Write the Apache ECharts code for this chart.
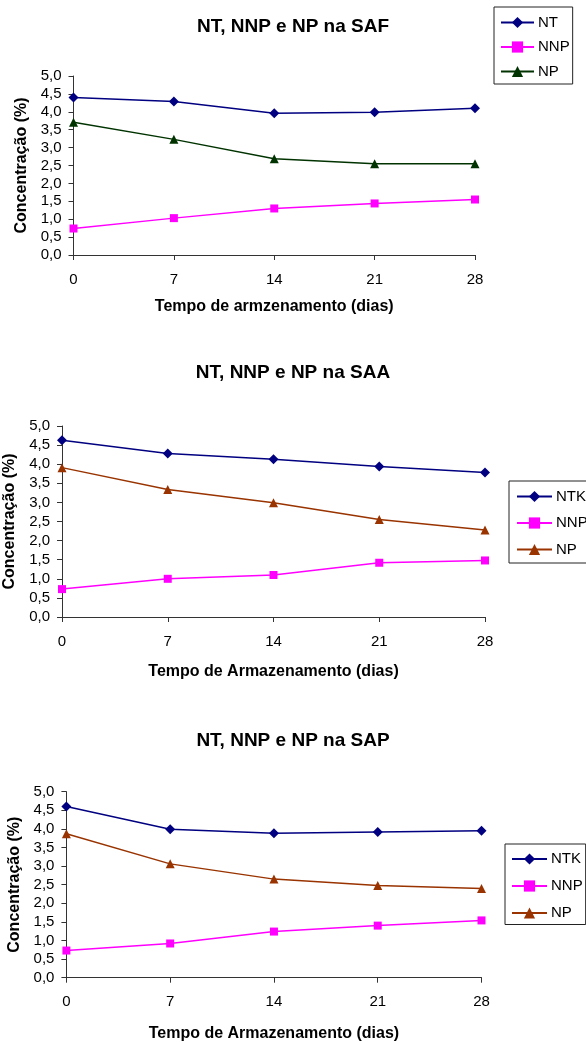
<!DOCTYPE html>
<html><head><meta charset="utf-8">
<script src="https://cdn.jsdelivr.net/npm/echarts@6/dist/echarts.min.js"></script>
<style>
html,body{margin:0;padding:0;background:#fff;}
#c1,#c2,#c3{position:absolute;left:0;width:586px;}
#c1{top:0;height:340px;}
#c2{top:340px;height:360px;}
#c3{top:700px;height:342px;}
</style></head>
<body>
<div id="c1"></div><div id="c2"></div><div id="c3"></div>
<script>
const days = [0, 7, 14, 21, 28];
// SAF
const safNT  = [4.40, 4.29, 3.96, 3.99, 4.10];
const safNNP = [0.74, 1.03, 1.30, 1.44, 1.55];
const safNP  = [3.71, 3.23, 2.69, 2.55, 2.55];
// SAA
const saaNTK = [4.63, 4.28, 4.13, 3.94, 3.78];
const saaNNP = [0.73, 1.00, 1.10, 1.42, 1.48];
const saaNP  = [3.91, 3.34, 2.99, 2.55, 2.28];
// SAP
const sapNTK = [4.60, 3.99, 3.88, 3.92, 3.95];
const sapNNP = [0.73, 0.92, 1.24, 1.40, 1.54];
const sapNP  = [3.87, 3.06, 2.65, 2.48, 2.40];

const FONT = '"Liberation Sans", Arial, sans-serif';
const pairs = v => days.map((d, i) => [d, v[i]]);

function build(cfg) {
  const mk = (name, vals, color, symbol, size) => ({
    name, type: 'line', data: pairs(vals), symbol, symbolSize: size,
    lineStyle: { color, width: 1.5 }, itemStyle: { color },
    animation: false
  });
  return {
    animation: false,
    textStyle: { fontFamily: FONT },
    title: {
      text: cfg.title, left: 'center', top: cfg.titleTop,
      textStyle: { fontFamily: FONT, fontSize: 19, fontWeight: 'bold', color: '#000' }
    },
    legend: {
      orient: 'vertical', left: cfg.legLeft, top: cfg.legTop,
      padding: cfg.legPad, itemGap: cfg.legGap,
      itemWidth: cfg.legIcon, itemHeight: 14,
      borderColor: '#222', borderWidth: 1, backgroundColor: '#fff', borderRadius: 0,
      textStyle: { fontFamily: FONT, fontSize: 15, color: '#000', padding: [0, 0, 0, -1] },
      data: cfg.names
    },
    grid: {
      left: cfg.gl, right: cfg.gr, top: cfg.gt, bottom: cfg.gb,
      containLabel: false, outerBoundsMode: 'none'
    },
    xAxis: {
      type: 'value', min: 0, max: 28, interval: 7,
      name: cfg.xName, nameLocation: 'middle', nameGap: cfg.xGap,
      nameTextStyle: { fontFamily: FONT, fontSize: 16, fontWeight: 'bold', color: '#000' },
      axisLine: { show: true, lineStyle: { color: '#333', width: 1 } },
      axisTick: { show: true, length: 5, lineStyle: { color: '#333' } },
      axisLabel: { fontFamily: FONT, fontSize: 15, color: '#000', margin: 17 },
      splitLine: { show: false }
    },
    yAxis: {
      type: 'value', min: 0, max: 5, interval: 0.5,
      name: 'Concentração (%)', nameLocation: 'middle', nameGap: cfg.yGap, nameRotate: 90,
      nameTextStyle: { fontFamily: FONT, fontSize: 16, fontWeight: 'bold', color: '#000' },
      axisLine: { show: true, lineStyle: { color: '#333', width: 1 } },
      axisTick: { show: true, length: 5, lineStyle: { color: '#333' } },
      axisLabel: { fontFamily: FONT, fontSize: 15, color: '#000', margin: 12,
        formatter: v => v.toFixed(1).replace('.', ',') },
      splitLine: { show: false }
    },
    series: [
      mk(cfg.names[0], cfg.s1, '#000080', 'diamond', 10),
      mk(cfg.names[1], cfg.s2, '#FF00FF', 'rect', 8),
      mk(cfg.names[2], cfg.s3, cfg.npColor, 'triangle', 9)
    ]
  };
}

const charts = [
  ['c1', {
    title: 'NT, NNP e NP na SAF', titleTop: 12.5,
    names: ['NT', 'NNP', 'NP'], s1: safNT, s2: safNNP, s3: safNP, npColor: '#003300',
    gl: 73.5, gr: 111, gt: 76, gb: 85,
    xName: 'Tempo de armzenamento (dias)', xGap: 44, yGap: 42,
    legLeft: 494, legTop: 7, legPad: [8, 3, 5, 6], legGap: 9.5, legIcon: 33
  }],
  ['c2', {
    title: 'NT, NNP e NP na SAA', titleTop: 18.5,
    names: ['NTK', 'NNP', 'NP'], s1: saaNTK, s2: saaNNP, s3: saaNP, npColor: '#993300',
    gl: 62, gr: 101, gt: 86, gb: 83,
    xName: 'Tempo de Armazenamento (dias)', xGap: 47, yGap: 44,
    legLeft: 509, legTop: 141, legPad: [8, 10, 6, 7], legGap: 11.5, legIcon: 35
  }],
  ['c3', {
    title: 'NT, NNP e NP na SAP', titleTop: 26.5,
    names: ['NTK', 'NNP', 'NP'], s1: sapNTK, s2: sapNNP, s3: sapNP, npColor: '#993300',
    gl: 66.4, gr: 104.5, gt: 91.7, gb: 64.3,
    xName: 'Tempo de Armazenamento (dias)', xGap: 48, yGap: 44,
    legLeft: 505, legTop: 144, legPad: [7.5, 3, 4, 6], legGap: 12, legIcon: 35
  }]
];
charts.forEach(([id, cfg]) => {
  const ch = echarts.init(document.getElementById(id), null, { renderer: 'canvas' });
  ch.setOption(build(cfg));
});
</script>
</body></html>
